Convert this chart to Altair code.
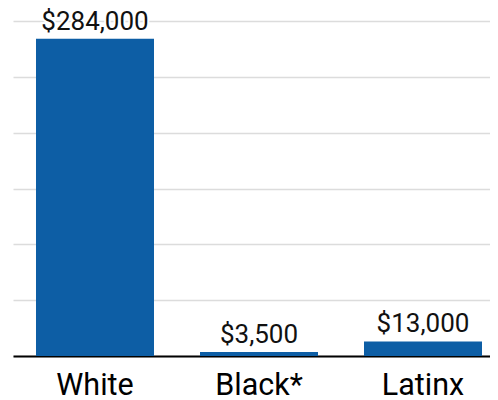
import altair as alt
import pandas as pd

groups = ["White", "Black*", "Latinx"]
values = [284000, 3500, 13000]

df = pd.DataFrame({"group": groups, "value": values})

x = alt.X("group:N", sort=groups, title=None,
          scale=alt.Scale(paddingInner=0.2805, paddingOuter=0.0945, align=0.742),
          axis=alt.Axis(labelAngle=0, labelFontSize=30.5, labelFont="Roboto", labelColor="#000000",
                        labelPadding=14, ticks=False, domainColor="#000000", domainWidth=2,
                        grid=False))
y = alt.Y("value:Q", title=None,
          scale=alt.Scale(domain=[0, 300000], nice=False),
          axis=alt.Axis(values=[0, 50000, 100000, 150000, 200000, 250000, 300000],
                        labels=False, ticks=False, domain=False, grid=True,
                        gridColor="#dcdcdc", gridWidth=1.5))

bars = alt.Chart(df).mark_bar(color="#0d5ea5").encode(x=x, y=y)
enc = dict(x=alt.X("group:N", sort=groups), y="value:Q",
           text=alt.Text("value:Q", format="$,"))
halo = alt.Chart(df).mark_text(font="Roboto", fontSize=26, color="#ffffff", stroke="#ffffff",
                               strokeWidth=4, baseline="alphabetic", dy=-9).encode(**enc)
text = alt.Chart(df).mark_text(font="Roboto", fontSize=26, color="#111111",
                               baseline="alphabetic", dy=-9).encode(**enc)

chart = (bars + halo + text).properties(
    width=477, height=335,
    autosize=alt.AutoSizeParams(type="none"),
    padding={"left": 5, "top": 13, "right": 0, "bottom": 46},
    background="#ffffff"
).configure_view(stroke=None)

chart.save("out.html", embed_options={"renderer": "svg", "actions": False})
